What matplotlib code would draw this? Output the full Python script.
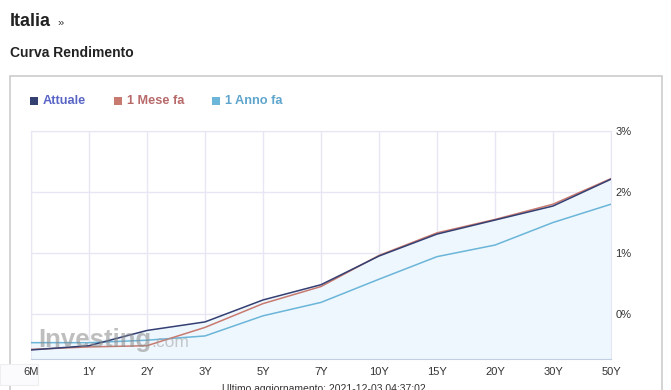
import matplotlib.pyplot as plt
import numpy as np
from matplotlib.patches import Rectangle
from matplotlib.ticker import FuncFormatter

plt.rcParams['font.family'] = ['Liberation Sans', 'DejaVu Sans']

# yield curve data (%)
tenors = ['6M', '1Y', '2Y', '3Y', '5Y', '7Y', '10Y', '15Y', '20Y', '30Y', '50Y']
attuale = [-0.59, -0.52, -0.27, -0.13, 0.23, 0.48, 0.95, 1.31, 1.54, 1.77, 2.21]
mese_fa = [-0.58, -0.54, -0.52, -0.22, 0.17, 0.45, 0.96, 1.33, 1.55, 1.80, 2.22]
anno_fa = [-0.47, -0.47, -0.43, -0.36, -0.03, 0.19, 0.57, 0.94, 1.13, 1.50, 1.80]
y_ticks = [0, 1, 2, 3]

c_att = '#343f72'
c_mese = '#c97a70'
c_anno = '#6bb5d9'

W, H = 671, 390
fig = plt.figure(figsize=(W / 100, H / 100), dpi=100)

# page text
fig.text(10 / W, 1 - 22 / H, 'Italia', fontsize=13, fontweight='bold', color='#222222', va='center')
fig.text(57 / W, 1 - 23 / H, '»', fontsize=8, color='#333333', va='center')
fig.text(10 / W, 1 - 53 / H, 'Curva Rendimento', fontsize=10, fontweight='bold', color='#222222', va='center')

# outer chart box
fig.patches.append(Rectangle((10 / W, -0.1), 652 / W, 1.1 - 76 / H, transform=fig.transFigure,
                             fill=False, edgecolor='#cccccc', linewidth=1.2, zorder=-2))
fig.patches.append(Rectangle((0, 5 / H), 38 / W, 21 / H, transform=fig.transFigure,
                             facecolor='#fbfbfd', edgecolor='#eeeeee', linewidth=0.8, zorder=-2))

# legend
legend_items = [('Attuale', c_att, '#5a66c6', 30), ('1 Mese fa', c_mese, '#b8696a', 114),
                ('1 Anno fa', c_anno, '#5ea5cd', 212)]
for label, sq, tc, x0 in legend_items:
    fig.patches.append(Rectangle((x0 / W, 1 - 105 / H), 8 / W, 8 / H, transform=fig.transFigure,
                                 facecolor=sq, edgecolor='none'))
    fig.text((x0 + 13) / W, 1 - 101 / H, label, fontsize=9.2, fontweight='bold', color=tc, va='center')

ax = fig.add_axes([31 / W, 31 / H, 580 / W, 228 / H])
ax.set_facecolor('white')

x = np.arange(len(tenors))
top = np.maximum(np.maximum(attuale, mese_fa), anno_fa)
ymin = -0.738
ax.fill_between(x, top, ymin, color='#eef7fd', zorder=1)
ax.plot(x, anno_fa, color=c_anno, linewidth=1.1, zorder=3)
ax.plot(x, mese_fa, color=c_mese, linewidth=1.1, zorder=4)
ax.plot(x, attuale, color=c_att, linewidth=1.1, zorder=5)

ax.set_xlim(0, len(tenors) - 1)
ax.set_ylim(ymin, 3)
ax.set_xticks(x)
ax.set_xticklabels(tenors)
ax.set_yticks(y_ticks)
ax.yaxis.set_major_formatter(FuncFormatter(lambda v, p: f'{v:.0f}%'))
ax.yaxis.tick_right()
ax.grid(True, color='#e6e6f4', linewidth=1, zorder=0)
ax.set_axisbelow(True)
for s in ['top', 'left', 'right']:
    ax.spines[s].set_color('#e6e6f4')
ax.spines['bottom'].set_color('#c0d0e0')
ax.tick_params(axis='both', length=0, labelsize=8, labelcolor='#333333')
ax.tick_params(axis='x', pad=6)
ax.tick_params(axis='y', pad=3)

# watermark
ax.text(0.12, -0.43, 'Investing', fontsize=18.5, fontweight='bold', color='#8a8a8a', alpha=0.55,
        va='center', ha='left', zorder=6)
ax.text(2.08, -0.47, '.com', fontsize=12.5, color='#a0a0a0', alpha=0.55, va='center', ha='left', zorder=6)

fig.text(222 / W, 1 - 389 / H, 'Ultimo aggiornamento: 2021-12-03 04:37:02', fontsize=7.5,
         color='#333333', va='center')

fig.savefig('out.png', dpi=100)
